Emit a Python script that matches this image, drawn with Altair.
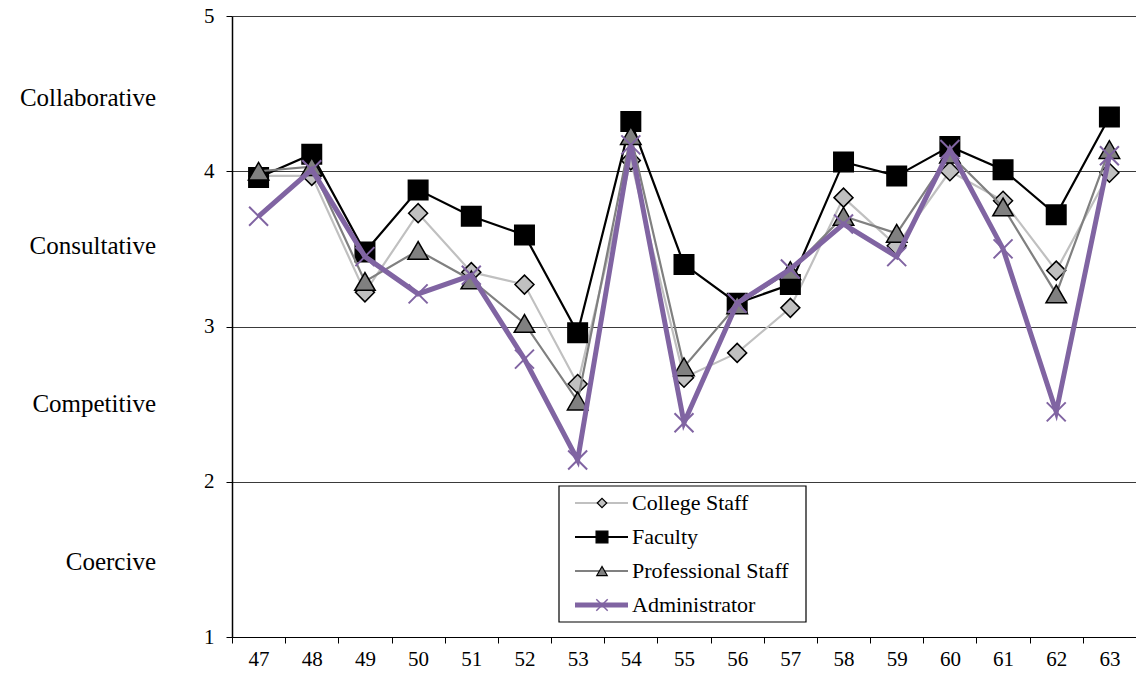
import altair as alt
import pandas as pd

# Survey items on the horizontal axis
questions = [str(q) for q in range(47, 64)]

# Mean rating per item for each respondent group
college_staff = [3.97, 3.97, 3.22, 3.73, 3.35, 3.27, 2.63, 4.07, 2.67, 2.83,
                 3.12, 3.83, 3.52, 4.00, 3.81, 3.36, 3.99]
faculty = [3.96, 4.11, 3.48, 3.88, 3.71, 3.59, 2.96, 4.32, 3.40, 3.15,
           3.27, 4.06, 3.97, 4.16, 4.01, 3.72, 4.35]
professional_staff = [4.00, 4.03, 3.29, 3.49, 3.30, 3.02, 2.52, 4.23, 2.74, 3.14,
                      3.36, 3.71, 3.60, 4.11, 3.77, 3.21, 4.14]
administrator = [3.71, 4.01, 3.45, 3.21, 3.33, 2.79, 2.14, 4.17, 2.38, 3.15,
                 3.37, 3.66, 3.45, 4.14, 3.50, 2.45, 4.10]

# Decision-style bands written beside the rating scale
style_names = ["Collaborative", "Consultative", "Competitive", "Coercive"]
style_levels = [4.47, 3.52, 2.50, 1.48]

FONT = "'Liberation Serif', 'Times New Roman', 'DejaVu Serif', serif"
W, H = 904, 621
LEFT, TOP = 232, 16
X_SHAPE = "M-1,-1L1,1M1,-1L-1,1"

x_enc = alt.X("question:O", sort=questions,
              scale=alt.Scale(paddingInner=0, paddingOuter=0),
              axis=alt.Axis(title=None, labelAngle=0, tickBand="extent",
                            labelFont=FONT, labelFontSize=21, labelColor="black",
                            labelPadding=5, domainColor="black", domainWidth=1.2,
                            tickColor="black", tickSize=6, grid=False))
y_scale = alt.Scale(domain=[1, 5], nice=False, zero=False)
y_enc = alt.Y("value:Q", scale=y_scale,
              axis=alt.Axis(title=None, values=[1, 2, 3, 4, 5], format="d",
                            labelFont=FONT, labelFontSize=21, labelColor="black",
                            labelPadding=12, domainColor="black", domainWidth=1.5,
                            tickColor="black", tickSize=6,
                            grid=True, gridColor="#3a3a3a", gridWidth=1))

series = [
    # name, values, line colour, line width, marker shape, fill, outline, size
    ("College Staff", college_staff, "#c0c0c0", 2.2, "diamond", "#c0c0c0", "black", 360),
    ("Faculty", faculty, "black", 2.2, "square", "black", "black", 380),
    ("Professional Staff", professional_staff, "#808080", 2.2, "triangle-up", "#808080", "black", 420),
    ("Administrator", administrator, "#8064a2", 5, X_SHAPE, None, "#8064a2", 360),
]

layers = []
for name, vals, lcol, lw, shape, fill, outline, size in series:
    df = pd.DataFrame({"question": questions, "value": vals, "group": name})
    base = alt.Chart(df).encode(x=x_enc, y=y_enc)
    layers.append(base.mark_line(color=lcol, strokeWidth=lw))
    if fill is None:
        layers.append(base.mark_point(shape=shape, filled=False, stroke=outline,
                                      strokeWidth=2, size=size, opacity=1))
    else:
        layers.append(base.mark_point(shape=shape, filled=True, fill=fill, stroke=outline,
                                      strokeWidth=1.5, size=size, opacity=1))

# Decision-style labels to the left of the rating axis
styles_df = pd.DataFrame({"style": style_names, "value": style_levels})
layers.append(
    alt.Chart(styles_df).mark_text(align="right", baseline="middle", font=FONT,
                                   fontSize=25, color="black")
    .encode(x=alt.value(156 - LEFT), y=alt.Y("value:Q", scale=y_scale), text="style:N")
)

# Legend box with a sample line, marker and name for each group
box_x0, box_x1, box_y0, box_y1 = 559 - LEFT, 806 - LEFT, 486 - TOP, 622 - TOP
layers.append(
    alt.Chart(pd.DataFrame({"k": [0]})).mark_rect(fill="white", stroke="black", strokeWidth=1.2)
    .encode(x=alt.value(box_x0), x2=alt.value(box_x1), y=alt.value(box_y0), y2=alt.value(box_y1))
)
row_y = [503, 537, 571, 605]
legend_sizes = [90, 140, 110, 130]
for (name, vals, lcol, lw, shape, fill, outline, size), ry, ls in zip(series, row_y, legend_sizes):
    d = pd.DataFrame({"label": [name]})
    yy = alt.value(ry - TOP)
    layers.append(alt.Chart(d).mark_rule(color=lcol, strokeWidth=lw)
                  .encode(x=alt.value(575 - LEFT), x2=alt.value(628 - LEFT), y=yy))
    if fill is None:
        layers.append(alt.Chart(d).mark_point(shape=shape, filled=False, stroke=outline,
                                              strokeWidth=1.5, size=ls, opacity=1)
                      .encode(x=alt.value(602 - LEFT), y=yy))
    else:
        layers.append(alt.Chart(d).mark_point(shape=shape, filled=True, fill=fill, stroke=outline,
                                              strokeWidth=1.2, size=ls, opacity=1)
                      .encode(x=alt.value(602 - LEFT), y=yy))
    layers.append(alt.Chart(d).mark_text(align="left", baseline="middle", font=FONT,
                                         fontSize=22, color="black")
                  .encode(x=alt.value(632 - LEFT), y=yy, text="label:N"))

chart = (
    alt.layer(*layers)
    .properties(width=W, height=H, autosize="none",
                padding={"left": LEFT, "top": TOP, "right": 0, "bottom": 677 - TOP - H},
                background="white")
    .configure_view(strokeWidth=0)
)

chart.save("out.html", embed_options={"renderer": "svg", "actions": False})
